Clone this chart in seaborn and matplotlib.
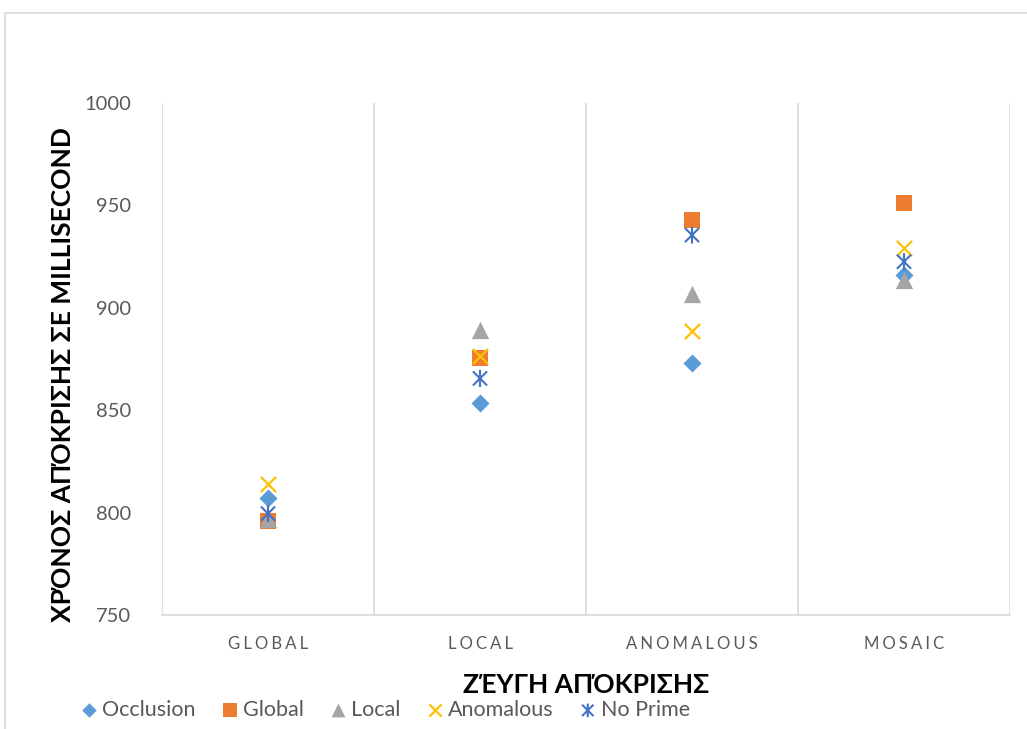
import matplotlib
matplotlib.use("Agg")
import matplotlib.pyplot as plt
import seaborn as sns
import pandas as pd
from matplotlib.path import Path
from matplotlib.patches import Rectangle

categories = ["GLOBAL", "LOCAL", "ANOMALOUS", "MOSAIC"]
occlusion = [807, 853.5, 873, 916]
global_ = [796, 875.5, 943, 951]
local = [797, 889, 906.5, 913.5]
anomalous = [814, 876.5, 888.5, 929]
no_prime = [799.5, 865.5, 935.5, 922.5]
series_names = ["Occlusion", "Global", "Local", "Anomalous", "No Prime"]
y_ticks = [750, 800, 850, 900, 950, 1000]

series_vals = [occlusion, global_, local, anomalous, no_prime]
rows = []
for name, vals in zip(series_names, series_vals):
    for i, (c, v) in enumerate(zip(categories, vals)):
        rows.append({"series": name, "category": c, "pos": i, "value": v})
df = pd.DataFrame(rows)

sns.set_theme(style="white")
FONT = ["Lato", "DejaVu Sans"]
plt.rcParams["font.family"] = FONT

star = Path([(-1, -1), (1, 1), (-1, 1), (1, -1), (0, -1.2), (0, 1.2)],
            [Path.MOVETO, Path.LINETO, Path.MOVETO, Path.LINETO, Path.MOVETO, Path.LINETO])

styles = {
    "Occlusion": dict(marker="D", color="#5B9BD5", s=85, kind="filled"),
    "Global": dict(marker="s", color="#ED7D31", s=145, kind="filled"),
    "Local": dict(marker="^", color="#A5A5A5", s=155, kind="filled"),
    "Anomalous": dict(marker="x", color="#FFC000", s=120, kind="line"),
    "No Prime": dict(marker=star, color="#4472C4", s=150, kind="path"),
}

fig = plt.figure(figsize=(10.27, 7.29), dpi=100)
ax = fig.add_axes([162 / 1027, 1 - 615 / 729, (1010 - 162) / 1027, (615 - 103) / 729])

for name in series_names:
    st = styles[name]
    sub = df[df["series"] == name]
    if st["kind"] == "filled":
        sns.scatterplot(data=sub, x="pos", y="value", marker=st["marker"], color=st["color"],
                        s=st["s"], linewidth=0, ax=ax, label=name, zorder=3)
    elif st["kind"] == "line":
        sns.scatterplot(data=sub, x="pos", y="value", marker=st["marker"], color=st["color"],
                        s=st["s"], linewidth=1.6, ax=ax, label=name, zorder=3)
    else:
        sns.scatterplot(data=sub, x="pos", y="value", marker=st["marker"], color=st["color"],
                        edgecolor=st["color"], facecolor="none",
                        s=st["s"], linewidth=1.5, ax=ax, label=name, zorder=3)

ax.set_xlim(-0.5, len(categories) - 0.5)
ax.set_ylim(750, 1000)
ax.set_yticks(y_ticks)
ax.set_yticklabels([str(t) for t in y_ticks], fontsize=14.5, color="#595959")
ax.set_xticks(range(len(categories)))
ax.set_xticklabels(["\u2009\u200a".join(c) for c in categories], fontsize=12, color="#595959")
ax.set_xticks([i - 0.5 for i in range(len(categories) + 1)], minor=True)
ax.grid(False)
ax.grid(True, which="minor", axis="x", color="#D9D9D9", linewidth=1.2)
ax.tick_params(axis="both", which="both", length=0)
ax.tick_params(axis="x", pad=15)
ax.tick_params(axis="y", pad=22)
for sp in ["top", "right", "left"]:
    ax.spines[sp].set_visible(False)
ax.spines["bottom"].set_color("#D9D9D9")
ax.spines["bottom"].set_linewidth(1.2)

ax.set_xlabel("")
ax.set_ylabel("")
fig.text(586 / 1027, 1 - 685 / 729, "ΖΈΥΓΗ ΑΠΌΚΡΙΣΗΣ", ha="center", va="center",
         fontsize=19, fontweight="bold", color="black", family=FONT)
fig.text(63 / 1027, 1 - 375 / 729, "ΧΡΌΝΟΣ ΑΠΌΚΡΙΣΗΣ ΣΕ MILLISECOND", ha="center", va="center",
         rotation=90, fontsize=19, fontweight="bold", color="black", family=FONT)

handles, labels = ax.get_legend_handles_labels()
ax.get_legend().remove()
fig.legend(handles, labels, loc="center", bbox_to_anchor=(384 / 1027, 1 - 710 / 729), ncol=5,
           frameon=False, fontsize=15.5, handletextpad=0.1, columnspacing=1.1,
           markerscale=0.8, labelcolor="#595959", handlelength=1.0)

fig.patches.append(Rectangle((5 / 1027, -0.01), 1.2, 1 - 13 / 729 + 0.01, transform=fig.transFigure,
                             fill=False, edgecolor="#D9D9D9", linewidth=1.2, zorder=0))

fig.savefig("out.png", dpi=100)
